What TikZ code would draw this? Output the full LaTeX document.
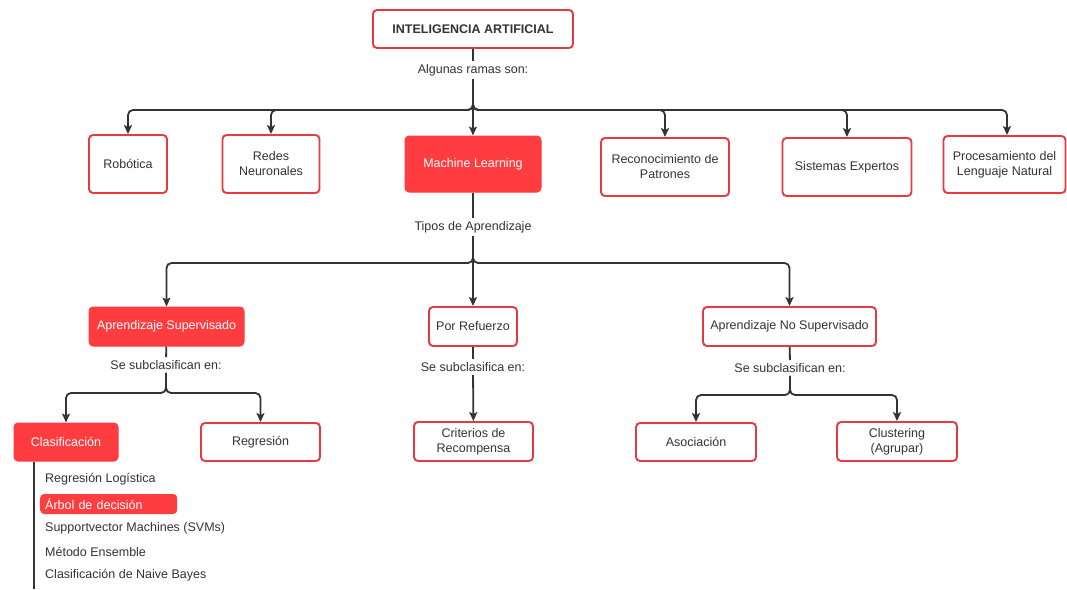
\documentclass[tikz,border=0pt]{standalone}
\usepackage{fontspec}
\setmainfont{Liberation Sans}
\usetikzlibrary{arrows.meta}
\definecolor{boxred}{HTML}{E8393F}
\definecolor{fillred}{HTML}{FF3D41}
\definecolor{ink}{HTML}{333333}
\begin{document}
\begin{tikzpicture}[x=1pt,y=-1pt,
  every node/.style={font=\fontsize{12.5}{15}\selectfont, text=ink},
  outline/.style={draw=boxred, line width=1.9pt, fill=white, rounded corners=4pt, align=center, inner sep=2pt},
  filledbox/.style={fill=fillred, draw=fillred, line width=1pt, rounded corners=4pt, text=white, align=center, inner sep=2pt},
  linklabel/.style={fill=white, inner sep=3pt},
  link/.style={draw=ink, line width=1.8pt, rounded corners=5pt},
  arrow/.style={link, -{Stealth[length=9pt,width=8pt,inset=2pt]}},
  listitem/.style={anchor=west, inner sep=0pt}
]
\useasboundingbox (0,0) rectangle (1067,589);

% root
\node[outline, minimum width=200, minimum height=38, font=\fontsize{12.5}{15}\selectfont\bfseries] (ia) at (473,29) {INTELIGENCIA ARTIFICIAL};
\node[linklabel] (ramas) at (473,70) {Algunas ramas son:};
\coordinate (bus1) at (473,110);

% branches of AI
\node[outline, minimum width=78, minimum height=58] (rob) at (128,164) {Robótica};
\node[outline, minimum width=97, minimum height=58] (redes) at (271,164) {Redes\\Neuronales};
\node[filledbox, minimum width=136, minimum height=56] (ml) at (473,164) {Machine Learning};
\node[outline, minimum width=128, minimum height=58] (recon) at (665,167) {Reconocimiento de\\Patrones};
\node[outline, minimum width=129, minimum height=58] (sist) at (847,167) {Sistemas Expertos};
\node[outline, minimum width=122, minimum height=57] (pln) at (1004.5,164.5) {Procesamiento del\\Lenguaje Natural};

\draw[link] (ia) -- (ramas);
\draw[arrow] (ramas) -- (ml);
\draw[arrow] (ramas) -- (bus1) -| (rob);
\draw[arrow] (ramas) -- (bus1) -| (redes);
\draw[arrow] (ramas) -- (bus1) -| (recon);
\draw[arrow] (ramas) -- (bus1) -| (sist);
\draw[arrow] (ramas) -- (bus1) -| ([xshift=2.5pt]pln.north);

% learning types
\node[linklabel] (tipos) at (473,227) {Tipos de Aprendizaje};
\coordinate (bus2) at (473,263);
\node[filledbox, minimum width=155, minimum height=39] (sup) at (166.5,326.5) {Aprendizaje Supervisado};
\node[outline, minimum width=88, minimum height=39] (ref) at (473,326.5) {Por Refuerzo};
\node[outline, minimum width=173, minimum height=39] (nosup) at (789.5,326.5) {Aprendizaje No Supervisado};

\draw[link] (ml) -- (tipos);
\draw[arrow] (tipos) -- (ref);
\draw[arrow] (tipos) -- (bus2) -| (sup);
\draw[arrow] (tipos) -- (bus2) -| (nosup);

% supervised
\node[linklabel] (subsup) at (166,365) {Se subclasifican en:};
\coordinate (bus3) at (166,393);
\node[filledbox, minimum width=104, minimum height=38] (clas) at (66,442) {Clasificación};
\node[outline, minimum width=119, minimum height=38] (regr) at (260.5,442) {Regresión};
\draw[link] (sup) -- (subsup);
\draw[arrow] (subsup) -- (bus3) -| (clas);
\draw[arrow] (subsup) -- (bus3) -| (regr);

% reinforcement
\node[linklabel] (subref) at (473,367) {Se subclasifica en:};
\node[outline, minimum width=119, minimum height=39] (crit) at (473.5,441.5) {Criterios de\\Recompensa};
\draw[link] (ref) -- (subref);
\draw[arrow] (subref) -- (crit);

% unsupervised
\node[linklabel] (subnosup) at (790,368) {Se subclasifican en:};
\coordinate (bus4) at (790,395);
\node[outline, minimum width=120, minimum height=38] (asoc) at (696,442) {Asociación};
\node[outline, minimum width=120, minimum height=39] (clus) at (897,441.5) {Clustering\\(Agrupar)};
\draw[link] (nosup) -- (subnosup);
\draw[arrow] (subnosup) -- (bus4) -| (asoc);
\draw[arrow] (subnosup) -- (bus4) -| (clus);

% classification methods
\coordinate (listend) at (34,589);
\draw[link, line width=2.2pt] (clas.south -| listend) -- (listend);
\node[listitem] (m1) at (45,479) {Regresión Logística};
\node[anchor=west, fill=fillred, rounded corners=4pt, text=white, text width=127, inner xsep=5pt, inner ysep=0pt, minimum height=20, align=left] (m2) at (40,504) {Árbol de decisión};
\node[listitem] (m3) at (45,528) {Supportvector Machines (SVMs)};
\node[listitem] (m4) at (45,552) {Método Ensemble};
\node[listitem] (m5) at (45,575) {Clasificación de Naive Bayes};
\end{tikzpicture}
\end{document}
